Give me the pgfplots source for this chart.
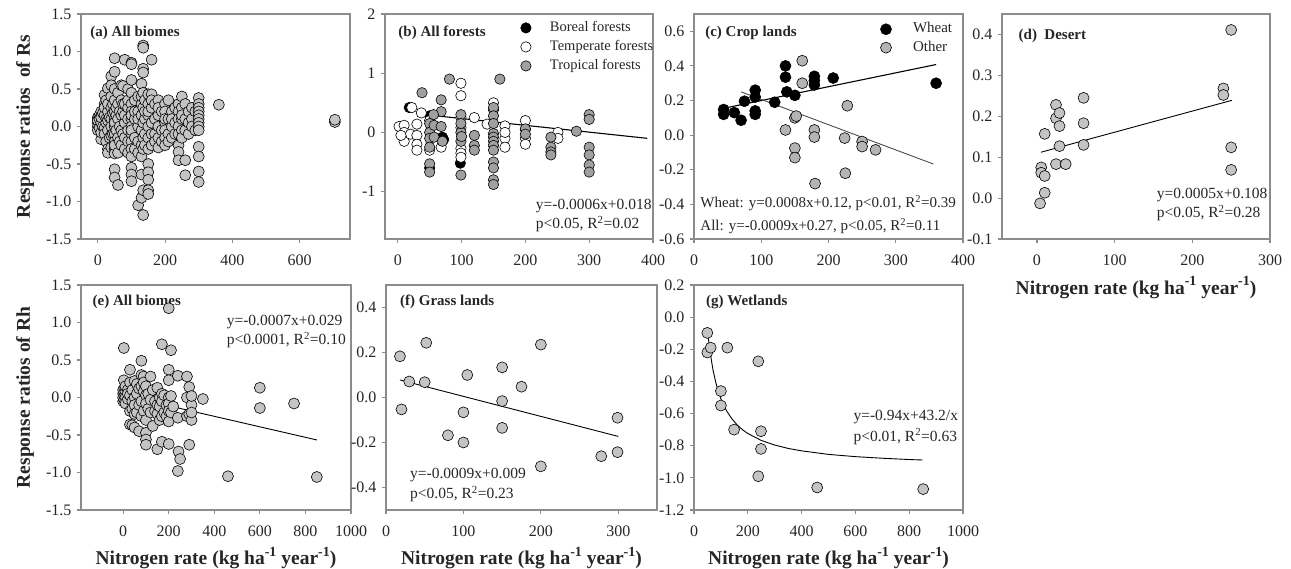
\documentclass[border=0pt]{standalone}
\usepackage{fontspec}
\setmainfont{Liberation Serif}
\usepackage{pgfplots}
\pgfplotsset{compat=1.18}
\definecolor{frame}{HTML}{8C8C8C}
\definecolor{ptgray}{HTML}{C4C4C4}
\definecolor{tropgray}{HTML}{A0A0A0}
\definecolor{othgray}{HTML}{B4B4B4}
\definecolor{txt}{HTML}{262626}
\newcommand{\ann}{\fontsize{15.5}{16}\selectfont}
\newcommand{\annc}{\fontsize{15}{16}\selectfont}
\newcommand{\ttl}{\bfseries\fontsize{15}{16}\selectfont}
\pgfplotsset{
 pan/.style={
  scale only axis, anchor=south west,
  axis line style={draw=frame, line width=1.1pt},
  tick align=outside, tick pos=left,
  major tick length=4pt,
  every tick/.style={draw=frame, line width=1.1pt},
  tick label style={font=\fontsize{16}{16}\selectfont, text=txt},
  xticklabel style={yshift=-8pt},
  yticklabel style={xshift=-2pt},
  /pgf/number format/assume math mode=true,
  /pgf/number format/1000 sep={},
  clip=false,
  xlabel style={font=\bfseries\fontsize{19.5}{20}\selectfont, text=txt, anchor=center},
  ylabel style={font=\bfseries\fontsize{19.5}{20}\selectfont, text=txt, anchor=center},
 },
 dots/.style={only marks, mark=*, mark size=5.5pt, mark options={fill=ptgray, draw=black, line width=0.6pt}},
 fit/.style={no marks, black, line width=1.1pt},
}
\newcommand{\sups}[1]{\raisebox{0.42em}{\fontsize{14}{14}\selectfont #1}}
\newcommand{\NR}{Nitrogen rate (kg ha\sups{-1} year\sups{-1})}
\begin{document}
\begin{tikzpicture}[x=1pt,y=1pt]
\path[use as bounding box] (0,0) rectangle (1291,569);
% ---------------- (a)
\begin{axis}[pan, at={(81pt,330pt)}, width=269pt, height=225pt,
  xmin=-50, xmax=750, xtick={0,200,400,600},
  ymin=-1.5, ymax=1.5, ytick={-1.5,-1,-0.5,0,0.5,1,1.5},
  yticklabels={-1.5,-1.0,-0.5,0.0,0.5,1.0,1.5},
  ylabel={Response ratios\ \ of Rs}, ylabel style={at={(axis description cs:-0.208,0.5)}}]
\addplot[dots] coordinates {
(0,0.1)(0,0.05)(0,0)(0,-0.05)(0,0.12)(0,0.08)
(5,0.15)(5,-0.02)(5,0.1)
(10,0.2)(10,0.05)(10,-0.17)(10,0.12)(10,-0.08)
(15,0.18)(15,0)
(20,0.42)(20,0.3)(20,0.15)(20,-0.02)(20,-0.1)(20,0.25)
(25,0.1)(25,-0.2)(25,0.35)(25,0.05)
(30,0.51)(30,0.2)(30,0.08)(30,-0.05)(30,-0.3)(30,-0.35)(30,0.3)
(35,0.12)(35,-0.15)
(40,0.67)(40,0.4)(40,0.25)(40,0.1)(40,0)(40,-0.12)(40,-0.28)(40,0.55)
(45,0.3)(45,-0.1)(45,0.18)
(50,0.91)(50,0.73)(50,0.5)(50,0.35)(50,0.2)(50,0.1)(50,0)(50,-0.1)(50,-0.2)(50,-0.3)(50,-0.36)(50,-0.57)(50,-0.68)(50,-0.25)(50,0.05)
(55,0.15)(55,-0.05)(55,0.25)
(60,0.3)(60,0.1)(60,-0.15)(60,-0.35)(60,-0.78)(60,0.45)
(65,0.2)(65,0)(65,-0.2)
(70,0.55)(70,0.35)(70,0.15)(70,-0.05)(70,-0.25)
(75,0.54)(75,0.2)(75,-0.1)(75,0.3)
(80,0.89)(80,0.3)(80,0.05)(80,-0.15)(80,-0.3)(80,0.15)
(90,0.5)(90,0.25)(90,0.1)(90,-0.05)(90,-0.2)(90,-0.35)(90,0.35)
(100,0.85)(100,0.83)(100,0.62)(100,0.45)(100,0.3)(100,0.2)(100,0.1)(100,0)(100,-0.1)(100,-0.2)(100,-0.3)(100,-0.4)(100,-0.55)(100,-0.64)(100,-0.73)(100,0.15)(100,-0.05)
(110,0.35)(110,0.1)(110,-0.15)(110,-0.3)(110,0.2)
(120,0.4)(120,0.2)(120,0)(120,-0.2)(120,-0.35)(120,-1.05)(120,0.1)
(130,0.57)(130,0.3)(130,0.15)(130,-0.05)(130,-0.25)(130,-0.4)(130,-0.64)(130,-0.95)(130,0.4)
(135,1.08)(135,1.05)(135,0.77)(135,0.72)(135,0.45)(135,0.25)(135,0.05)(135,-0.15)(135,-0.3)(135,-1.18)(135,-0.85)
(140,0.35)(140,0.1)(140,-0.1)(140,-0.25)(140,0.2)
(150,0.43)(150,0.3)(150,0.15)(150,0)(150,-0.15)(150,-0.3)(150,-0.5)(150,-0.61)(150,-0.71)(150,-0.85)(150,-0.9)(150,0.2)
(160,0.89)(160,0.43)(160,0.25)(160,0.05)(160,-0.1)(160,-0.25)(160,0.35)
(170,0.3)(170,0.1)(170,-0.1)(170,-0.2)
(180,0.35)(180,0.15)(180,0)(180,-0.15)(180,-0.28)(180,0.25)
(190,0.2)(190,-0.05)(190,-0.2)
(200,0.3)(200,0.2)(200,0.05)(200,-0.05)(200,-0.15)(200,-0.25)(200,0.1)
(210,0.35)(210,0.1)(210,-0.1)(210,-0.2)
(220,0.2)(220,0)(220,-0.15)(220,0.1)
(230,0.25)(230,0.05)(230,-0.1)
(240,0.3)(240,0.2)(240,0.1)(240,0)(240,-0.1)(240,-0.25)(240,-0.34)(240,-0.45)
(250,0.4)(250,0.25)(250,0.1)(250,-0.05)(250,-0.15)(250,0.15)
(260,0.3)(260,0.1)(260,-0.05)(260,-0.45)(260,-0.65)
(270,0.2)(270,0.05)(270,-0.1)
(280,0.25)(280,0.1)(280,0)
(290,0.2)(290,-0.05)
(300,0.38)(300,0.3)(300,0.25)(300,0.2)(300,0.15)(300,0.1)(300,0.05)(300,0)(300,-0.05)(300,-0.27)(300,-0.4)(300,-0.6)(300,-0.74)
(360,0.29)(705,0.06)(705,0.09)};
\node[anchor=west, font=\ttl, text=txt] at (rel axis cs:0.022,0.916) {(a) All biomes};
\end{axis}
% ---------------- (b)
\begin{axis}[pan, at={(385pt,330pt)}, width=268pt, height=225pt,
  xmin=-20, xmax=400, xtick={0,100,200,300,400},
  ymin=-1.8, ymax=2, ytick={-1,0,1,2}, yticklabels={-1,0,1,2},
  legend style={at={(0.496,0.967)}, anchor=north west, draw=none, fill=none, inner sep=0pt, outer sep=0pt,
    font=\fontsize{14.5}{15}\selectfont, row sep=6pt, column sep=0pt,
    nodes={inner sep=0pt, text height=10pt, text depth=3pt, text=txt}},
  legend cell align=left,
  legend image code/.code={\path[draw=none,fill=none] (-8pt,-6.5pt) rectangle (24pt,6.5pt); \draw[mark repeat=2,mark phase=2,#1] plot coordinates {(-1pt,0pt)(0pt,0pt)(1pt,0pt)};}]
\addplot[only marks, mark=*, mark size=5.2pt, mark options={fill=black, draw=black, line width=0.6pt}] coordinates {
(18,0.42)(50,0.28)(72,-0.12)(98,-0.52)(200,0.05)(50,-0.6)(70,-0.08)};
\addplot[only marks, mark=*, mark size=5.2pt, mark options={fill=white, draw=black, line width=0.6pt}] coordinates {
(2,0.1)(10,0.12)(10,0)(10,-0.15)(20,-0.03)(30,0.14)(30,-0.05)(30,-0.2)(30,-0.3)(37,0.33)(22,0.42)(5,-0.05)
(50,0.2)(50,-0.3)(68,-0.25)(99,0.83)(99,0.62)(99,0.25)(99,-0.27)(99,-0.35)(99,-0.42)(99,0.08)
(120,0.25)(150,0.5)(150,0.38)(140,0.14)(168,0.11)(168,-0.1)(168,-0.25)(168,0)
(200,0.2)(200,-0.1)(200,-0.2)(251,0)(251,-0.1)};
\addplot[only marks, mark=*, mark size=5.2pt, mark options={fill=tropgray, draw=black, line width=0.6pt}] coordinates {
(38,0.67)(81,0.9)(160,0.9)(68,0.55)(68,0.35)(56,0.3)(50,0.15)(50,0)(50,-0.1)(50,-0.25)(50,-0.53)(50,-0.67)
(57,0.12)(68,0.1)(57,-0.08)(70,-0.15)(99,0.3)(99,0)(99,-0.15)(99,-0.72)(99,0.15)(100,-0.07)
(120,-0.05)(120,-0.22)(120,-0.3)(150,0.42)(150,0.28)(150,0.15)(150,-0.02)(150,-0.08)(150,-0.15)(150,-0.22)(150,-0.3)
(150,-0.5)(150,-0.6)(150,-0.8)(150,-0.88)(200,0.06)(200,-0.03)(240,-0.08)(240,-0.25)(240,-0.33)(240,-0.38)
(280,0.02)(300,0.3)(300,0.22)(300,-0.25)(300,-0.38)(300,-0.55)(300,-0.67)};
\legend{Boreal forests, Temperate forests, Tropical forests}
\addplot[fit, forget plot] coordinates {(43,0.3)(391,-0.1)};
\node[anchor=west, font=\ttl, text=txt] at (rel axis cs:0.037,0.916) {(b) All forests};
\node[anchor=west, font=\ann, text=txt] at (rel axis cs:0.55,0.147) {y=-0.0006x+0.018};
\node[anchor=west, font=\ann, text=txt] at (rel axis cs:0.55,0.067) {p<0.05, R\textsuperscript{2}=0.02};
\end{axis}
% ---------------- (c)
\begin{axis}[pan, at={(694pt,330pt)}, width=269pt, height=225pt,
  xmin=0, xmax=400, xtick={0,100,200,300,400},
  ymin=-0.6, ymax=0.7, ytick={-0.6,-0.4,-0.2,0,0.2,0.4,0.6},
  yticklabels={-0.6,-0.4,-0.2,0.0,0.2,0.4,0.6},
  legend style={at={(0.684,0.961)}, anchor=north west, draw=none, fill=none, inner sep=0pt, outer sep=0pt,
    font=\fontsize{15}{15}\selectfont, row sep=5.4pt, column sep=0pt,
    nodes={inner sep=0pt, text height=10pt, text depth=3pt, text=txt}},
  legend cell align=left,
  legend image code/.code={\path[draw=none,fill=none] (-8pt,-6.5pt) rectangle (27pt,6.5pt); \draw[mark repeat=2,mark phase=2,#1] plot coordinates {(-1pt,0pt)(0pt,0pt)(1pt,0pt)};}]
\addplot[only marks, mark=*, mark size=5.5pt, mark options={fill=black, draw=black, line width=0.6pt}] coordinates {
(44,0.148)(44,0.12)(60,0.13)(70,0.086)(75,0.196)(91,0.26)(91,0.22)(91,0.14)(91,0.12)(120,0.19)
(136,0.4)(136,0.335)(138,0.25)(150,0.23)(179,0.34)(179,0.315)(179,0.29)(207,0.33)(360,0.30)};
\addplot[only marks, mark=*, mark size=5.5pt, mark options={fill=othgray, draw=black, line width=0.6pt}] coordinates {
(161,0.43)(161,0.3)(136,0.03)(150,0.1)(152,0.11)(150,-0.075)(150,-0.13)(179,0.03)(179,-0.011)(180,-0.28)
(228,0.17)(224,-0.017)(225,-0.22)(250,-0.037)(250,-0.066)(270,-0.085)};
\legend{Wheat, Other}
\addplot[fit, forget plot] coordinates {(44,0.155)(360,0.408)};
\addplot[fit, forget plot, draw=black!70, line width=0.9pt] coordinates {(70,0.25)(356,-0.167)};
\node[anchor=west, font=\ttl, text=txt] at (rel axis cs:0.029,0.916) {(c) Crop lands};
\node[anchor=west, font=\annc, text=txt] at (rel axis cs:0.011,0.158) {Wheat: y=0.0008x+0.12, p<0.01, R\textsuperscript{2}=0.39};
\node[anchor=west, font=\annc, text=txt] at (rel axis cs:0.011,0.058) {All: y=-0.0009x+0.27, p<0.05, R\textsuperscript{2}=0.11};
\end{axis}
% ---------------- (d)
\begin{axis}[pan, at={(1002pt,330pt)}, width=268pt, height=225pt,
  xmin=-45, xmax=300, xtick={0,100,200,300},
  ymin=-0.1, ymax=0.45, ytick={-0.1,0,0.1,0.2,0.3,0.4},
  yticklabels={-0.1,0.0,0.1,0.2,0.3,0.4},
  xlabel={\NR}, xlabel style={at={(axis description cs:0.5,-0.216)}}]
\addplot[dots] coordinates {
(250,0.411)(240,0.268)(240,0.252)(250,0.124)(250,0.069)(60,0.245)(60,0.183)(60,0.13)
(24.5,0.228)(24.5,0.195)(24.5,0.083)(29,0.208)(29,0.176)(29,0.127)(37,0.083)(10,0.157)
(5.5,0.075)(5.5,0.062)(10,0.054)(10,0.013)(4,-0.013)};
\addplot[fit, line width=0.9pt] coordinates {(5,0.112)(251,0.239)};
\node[anchor=west, font=\ttl, text=txt] at (rel axis cs:0.049,0.902) {(d)\ \ Desert};
\node[anchor=west, font=\ann, text=txt] at (rel axis cs:0.565,0.196) {y=0.0005x+0.108};
\node[anchor=west, font=\ann, text=txt] at (rel axis cs:0.565,0.114) {p<0.05, R\textsuperscript{2}=0.28};
\end{axis}
% ---------------- (e)
\begin{axis}[pan, at={(81pt,59pt)}, width=270pt, height=225pt,
  xmin=-185, xmax=1000, xtick={0,200,400,600,800,1000},
  ymin=-1.5, ymax=1.5, ytick={-1.5,-1,-0.5,0,0.5,1,1.5},
  yticklabels={-1.5,-1.0,-0.5,0.0,0.5,1.0,1.5},
  ylabel={Response ratios of Rh}, ylabel style={at={(axis description cs:-0.207,0.5)}},
  xlabel={\NR}, xlabel style={at={(axis description cs:0.5,-0.213)}}]
\addplot[dots] coordinates {
(0,0.05)(0,-0.05)(0,0)(0,0.1)(3,0.23)(3,0.66)
(5,0.02)(5,-0.03)(5,0.12)
(10,0.08)(10,0)(10,-0.08)(10,0.15)
(20,0.1)(20,-0.02)(20,0.05)
(30,0.37)(30,0.03)(30,-0.18)(30,-0.36)(30,0.2)
(40,0.1)(40,-0.05)(40,-0.15)(40,-0.37)
(50,0.22)(50,0)(50,-0.1)(50,-0.22)(50,-0.4)
(60,0.05)(60,-0.2)(60,0.18)
(70,0.12)(70,-0.1)(70,-0.45)
(80,0.49)(80,0.3)(80,0.15)(80,-0.05)(80,-0.25)
(90,0.28)(90,0.2)(90,0.08)(90,-0.18)
(100,0.15)(100,0.03)(100,-0.08)(100,-0.3)(100,-0.47)(100,-0.56)(100,-0.63)
(110,0.05)(110,-0.15)
(120,0.28)(120,-0.03)(120,-0.2)
(130,0.1)(130,-0.38)
(140,-0.05)(140,-0.18)
(150,0.13)(150,-0.1)(150,-0.22)(150,-0.69)
(160,0)(160,-0.12)(160,-0.3)
(170,0.71)(170,0.05)(170,-0.05)(170,-0.25)(170,-0.59)
(180,0.03)(180,-0.2)
(190,-0.1)(190,-0.25)
(200,1.19)(200,0.37)(200,0.23)(200,0)(200,-0.08)(200,-0.18)(200,-0.32)(200,-0.62)
(210,0.63)(210,0.02)(210,-0.2)
(220,-0.12)
(240,0.29)(240,-0.27)(240,-0.98)(243,-0.72)
(250,-0.82)
(280,0.28)(280,0)(280,-0.25)
(290,0.14)(290,-0.22)(290,-0.63)
(300,-0.1)(300,-0.3)(300,0.02)(300,-0.2)
(350,-0.02)(460,-1.05)(600,0.13)(600,-0.14)(750,-0.08)(850,-1.06)};
\addplot[fit, line width=0.9pt] coordinates {(0,0.029)(850,-0.566)};
\node[anchor=west, font=\ttl, text=txt] at (rel axis cs:0.03,0.926) {(e) All biomes};
\node[anchor=west, font=\ann, text=txt] at (rel axis cs:0.527,0.835) {y=-0.0007x+0.029};
\node[anchor=west, font=\ann, text=txt] at (rel axis cs:0.527,0.755) {p<0.0001, R\textsuperscript{2}=0.10};
\end{axis}
% ---------------- (f)
\begin{axis}[pan, at={(386pt,59pt)}, width=271pt, height=225pt,
  xmin=0, xmax=350, xtick={0,100,200,300},
  ymin=-0.5, ymax=0.5, ytick={-0.4,-0.2,0,0.2,0.4},
  yticklabels={-0.4,-0.2,0.0,0.2,0.4},
  xlabel={\NR}, xlabel style={at={(axis description cs:0.5,-0.213)}}]
\addplot[dots] coordinates {
(52,0.243)(18,0.183)(30,0.071)(50,0.068)(105,0.1)(150,0.134)(200,0.235)(175,0.048)(150,-0.016)
(20,-0.053)(100,-0.066)(150,-0.135)(80,-0.168)(100,-0.2)(200,-0.306)(278,-0.261)(299,-0.243)(299,-0.09)};
\addplot[fit, line width=0.9pt] coordinates {(18,0.078)(300,-0.173)};
\node[anchor=west, font=\ttl, text=txt] at (rel axis cs:0.039,0.926) {(f) Grass lands};
\node[anchor=west, font=\ann, text=txt] at (rel axis cs:0.076,0.156) {y=-0.0009x+0.009};
\node[anchor=west, font=\ann, text=txt] at (rel axis cs:0.076,0.071) {p<0.05, R\textsuperscript{2}=0.23};
\end{axis}
% ---------------- (g)
\begin{axis}[pan, at={(694pt,59pt)}, width=269pt, height=225pt,
  xmin=0, xmax=1000, xtick={0,200,400,600,800,1000},
  ymin=-1.2, ymax=0.2, ytick={-1.2,-1,-0.8,-0.6,-0.4,-0.2,0,0.2},
  yticklabels={-1.2,-1.0,-0.8,-0.6,-0.4,-0.2,0.0,0.2},
  xlabel={\NR}, xlabel style={at={(axis description cs:0.5,-0.213)}}]
\addplot[dots] coordinates {
(49.5,-0.098)(49.5,-0.22)(62,-0.19)(124,-0.19)(239,-0.275)(100,-0.46)(100,-0.55)(149,-0.70)
(249,-0.71)(249,-0.82)(239,-0.99)(458,-1.06)(852,-1.07)};
\addplot[fit, line width=0.9pt] coordinates {
(50,-0.076)(55,-0.155)(60,-0.22)(70,-0.323)(80,-0.4)(90,-0.46)(100,-0.508)(120,-0.58)(140,-0.631)
(160,-0.67)(180,-0.70)(200,-0.724)(250,-0.767)(300,-0.796)(350,-0.817)(400,-0.832)(500,-0.854)
(600,-0.868)(700,-0.878)(800,-0.886)(850,-0.889)};
\node[anchor=west, font=\ttl, text=txt] at (rel axis cs:0.032,0.926) {(g) Wetlands};
\node[anchor=west, font=\ann, text=txt] at (rel axis cs:0.58,0.415) {y=-0.94x+43.2/x};
\node[anchor=west, font=\ann, text=txt] at (rel axis cs:0.58,0.326) {p<0.01, R\textsuperscript{2}=0.63};
\end{axis}
\end{tikzpicture}
\end{document}
